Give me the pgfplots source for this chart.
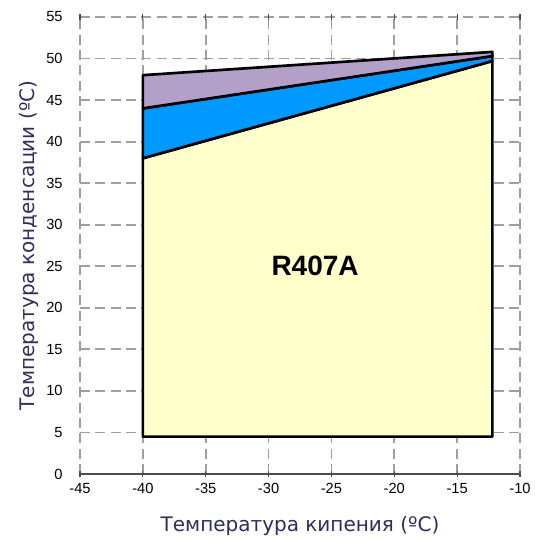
\documentclass[border=0pt]{standalone}
\usepackage{pgfplots}
\pgfplotsset{compat=1.18}
\usepackage{fontspec}
\setmainfont{Liberation Sans}
\newfontfamily\labelfont{DejaVu Sans}

\definecolor{lilac}{RGB}{178,160,200}
\definecolor{skyblue}{RGB}{0,153,255}
\definecolor{paleyellow}{RGB}{255,255,204}
\definecolor{labelblue}{RGB}{45,45,95}

\begin{document}
\begin{tikzpicture}
\useasboundingbox (-60pt,-50.25pt) rectangle (341.25pt,355.5pt);
\begin{axis}[
    scale only axis,
    width=330pt, height=342.75pt,
    xmin=-45, xmax=-10, ymin=0, ymax=55,
    xtick={-45,-40,...,-10},
    ytick={0,5,...,55},
    axis line style={draw=none},
    grid=major,
    major grid style={gray!75, dash pattern=on 7.5pt off 4pt, line width=1.3pt},
    x tick style={draw=black!70, line width=0.8pt},
    y tick style={draw=none},
    tick align=center,
    major tick length=5pt,
    tick label style={font=\fontsize{11}{12}\selectfont},
    xticklabel style={yshift=-1pt},
    yticklabel style={xshift=-7pt},
    /pgf/number format/assume math mode=true,
    xlabel={Температура кипения (ºC)},
    ylabel={Температура конденсации (ºC)},
    label style={font=\labelfont\fontsize{15}{17}\selectfont, text=labelblue},
    xlabel style={yshift=-10pt},
    ylabel style={yshift=-1pt},
    clip=false,
]
\draw[black!70, line width=0.8pt] (axis cs:-45,0) -- (axis cs:-10,0);
% yellow zone
\addplot[fill=paleyellow, draw=black, line width=2pt, line join=round] coordinates {
  (-40,4.5) (-12.2,4.5) (-12.2,49.7) (-40,38) } -- cycle;
% blue zone
\addplot[fill=skyblue, draw=black, line width=2pt, line join=round] coordinates {
  (-40,38) (-40,44) (-12.2,50.3) (-12.2,49.7) } -- cycle;
% lilac zone
\addplot[fill=lilac, draw=black, line width=2pt, line join=round] coordinates {
  (-40,44) (-40,48) (-12.2,50.8) (-12.2,50.3) } -- cycle;
\node[font=\fontsize{21}{24}\selectfont\bfseries] at (axis cs:-26.3,25) {R407A};
\end{axis}
\end{tikzpicture}
\end{document}
